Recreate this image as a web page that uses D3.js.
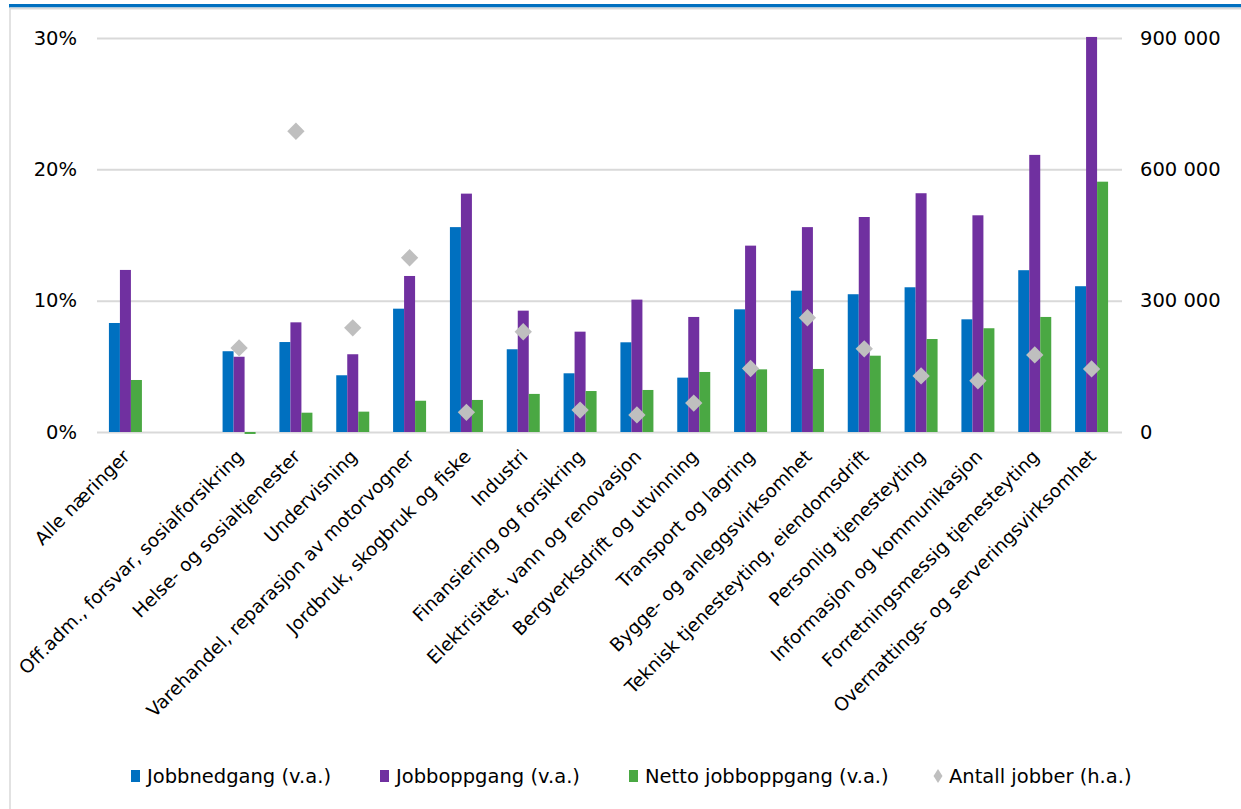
<!DOCTYPE html>
<html>
<head>
<meta charset="utf-8">
<script src="https://cdn.jsdelivr.net/npm/d3@7"></script>
<style>
  html, body { margin: 0; padding: 0; background: #fff; }
  svg { display: block; font-family: "DejaVu Sans", sans-serif; }
</style>
</head>
<body>
<svg id="chart" width="1241" height="809"></svg>
<script>
// Industries (an empty slot separates the total from the individual industries)
const categories = [
  "Alle næringer",
  "",
  "Off.adm., forsvar, sosialforsikring",
  "Helse- og sosialtjenester",
  "Undervisning",
  "Varehandel, reparasjon av motorvogner",
  "Jordbruk, skogbruk og fiske",
  "Industri",
  "Finansiering og forsikring",
  "Elektrisitet, vann og renovasjon",
  "Bergverksdrift og utvinning",
  "Transport og lagring",
  "Bygge- og anleggsvirksomhet",
  "Teknisk tjenesteyting, eiendomsdrift",
  "Personlig tjenesteyting",
  "Informasjon og kommunikasjon",
  "Forretningsmessig tjenesteyting",
  "Overnattings- og serveringsvirksomhet"
];

// Left axis, percent
const jobbnedgang = [8.3, null, 6.15, 6.85, 4.32, 9.39, 15.6, 6.3, 4.47, 6.83, 4.14, 9.34, 10.76, 10.49, 11.02, 8.58, 12.32, 11.1];
const jobboppgang = [12.34, null, 5.73, 8.35, 5.92, 11.88, 18.15, 9.24, 7.64, 10.08, 8.76, 14.19, 15.6, 16.37, 18.18, 16.5, 21.1, 30.08];
const nettoJobboppgang = [3.96, null, -0.15, 1.47, 1.55, 2.38, 2.44, 2.9, 3.12, 3.2, 4.57, 4.77, 4.8, 5.81, 7.08, 7.9, 8.76, 19.06];
// Right axis, number of jobs
const antallJobber = [null, null, 192000, 687000, 238000, 398000, 45000, 229000, 50000, 39000, 66000, 145000, 261000, 190000, 128000, 117000, 176000, 144000];

const leftTicks = [0, 10, 20, 30];
const rightTicks = [0, 300000, 600000, 900000];

const seriesNames = ["Jobbnedgang (v.a.)", "Jobboppgang (v.a.)", "Netto jobboppgang (v.a.)", "Antall jobber (h.a.)"];
const colors = { blue: "#0070c0", purple: "#7030a0", green: "#4aa843", gray: "#bfbfbf" };

const svg = d3.select("#chart");
const margin = { left: 97, right: 121, top: 38, bottom: 377 };
const W = 1241, H = 809;
const x0Range = [margin.left, W - margin.right];
const yRange = [H - margin.bottom, margin.top];

// Frame: blue top band and thin gray rules
svg.append("rect").attr("x", 9).attr("y", 4).attr("width", W - 9).attr("height", 3.5).attr("fill", "#0070c0");
svg.append("line").attr("x1", 10).attr("x2", W).attr("y1", 8.5).attr("y2", 8.5).attr("stroke", "#d9d9d9").attr("stroke-width", 2);
svg.append("line").attr("x1", 10).attr("x2", 10).attr("y1", 8).attr("y2", H).attr("stroke", "#d9d9d9").attr("stroke-width", 1.5);

const slots = categories.map((c, i) => i);
const x0 = d3.scaleBand().domain(slots).range(x0Range).paddingInner(0).paddingOuter(0);
const groupW = 33;
const x1 = d3.scaleBand().domain([0, 1, 2])
  .range([(x0.bandwidth() - groupW) / 2, (x0.bandwidth() + groupW) / 2]).padding(0);

const yL = d3.scaleLinear().domain([0, 30]).range(yRange);
const yR = d3.scaleLinear().domain([0, 900000]).range(yRange);

const nb = d3.formatLocale({ decimal: ",", thousands: " ", grouping: [3], currency: ["", " kr"] });
const fmtR = nb.format(",d");

// Gridlines + left axis
const gL = svg.append("g").attr("transform", `translate(${margin.left},0)`)
  .call(d3.axisLeft(yL).tickValues(leftTicks).tickFormat(d => d + "%")
    .tickSize(-(x0Range[1] - x0Range[0] + 2)).tickPadding(20));
gL.select(".domain").remove();
gL.selectAll(".tick line").attr("stroke", "#d9d9d9").attr("stroke-width", 2);
gL.selectAll(".tick text").attr("font-size", 19.5).attr("fill", "#000")
  .attr("font-family", "DejaVu Sans, sans-serif");

// Right axis
const gR = svg.append("g").attr("transform", `translate(${x0Range[1]},0)`)
  .call(d3.axisRight(yR).tickValues(rightTicks).tickFormat(fmtR).tickSize(0).tickPadding(20));
gR.select(".domain").remove();
gR.selectAll(".tick text").attr("font-size", 19.5).attr("fill", "#000")
  .attr("font-family", "DejaVu Sans, sans-serif");

// Bars
const barSeries = [
  { values: jobbnedgang, color: colors.blue },
  { values: jobboppgang, color: colors.purple },
  { values: nettoJobboppgang, color: colors.green }
];
barSeries.forEach((s, si) => {
  svg.append("g").selectAll("rect")
    .data(s.values.map((v, i) => ({ v, i })).filter(d => d.v != null))
    .join("rect")
    .attr("x", d => x0(d.i) + x1(si))
    .attr("width", x1.bandwidth())
    .attr("y", d => Math.min(yL(d.v), yL(0)))
    .attr("height", d => Math.abs(yL(d.v) - yL(0)))
    .attr("fill", s.color);
});

// Diamonds for number of jobs
const diamond = d3.symbol().type(d3.symbolSquare).size(150);
svg.append("g").selectAll("path")
  .data(antallJobber.map((v, i) => ({ v, i })).filter(d => d.v != null))
  .join("path")
  .attr("d", diamond)
  .attr("transform", d => `translate(${x0(d.i) + x0.bandwidth() / 2},${yR(d.v)}) rotate(45)`)
  .attr("fill", colors.gray);

// Category labels
const gX = svg.append("g").attr("transform", `translate(0,${yL(0)})`)
  .call(d3.axisBottom(x0).tickFormat(i => categories[i]).tickSize(0));
gX.select(".domain").remove();
gX.selectAll(".tick text")
  .attr("font-size", 18.5).attr("fill", "#000")
  .attr("font-family", "DejaVu Sans, sans-serif")
  .attr("text-anchor", "end")
  .attr("x", 0).attr("y", 0).attr("dy", "0.35em")
  .attr("transform", "translate(1,21) rotate(-45)");

// Legend
const legendY = 776;
const legendItems = [
  { name: seriesNames[0], color: colors.blue, x: 131, shape: "rect" },
  { name: seriesNames[1], color: colors.purple, x: 380, shape: "rect" },
  { name: seriesNames[2], color: colors.green, x: 629, shape: "rect" },
  { name: seriesNames[3], color: colors.gray, x: 933, shape: "diamond" }
];
const lg = svg.append("g");
legendItems.forEach(it => {
  if (it.shape === "rect") {
    lg.append("rect").attr("x", it.x).attr("y", legendY - 6).attr("width", 9).attr("height", 12).attr("fill", it.color);
  } else {
    lg.append("path").attr("d", "M0,-7L4.5,0L0,7L-4.5,0Z")
      .attr("transform", `translate(${it.x + 5},${legendY})`).attr("fill", it.color);
  }
  lg.append("text").attr("x", it.x + 16).attr("y", legendY).attr("dy", "0.35em")
    .attr("font-size", 19.5).attr("fill", "#000").text(it.name);
});
</script>
</body>
</html>
